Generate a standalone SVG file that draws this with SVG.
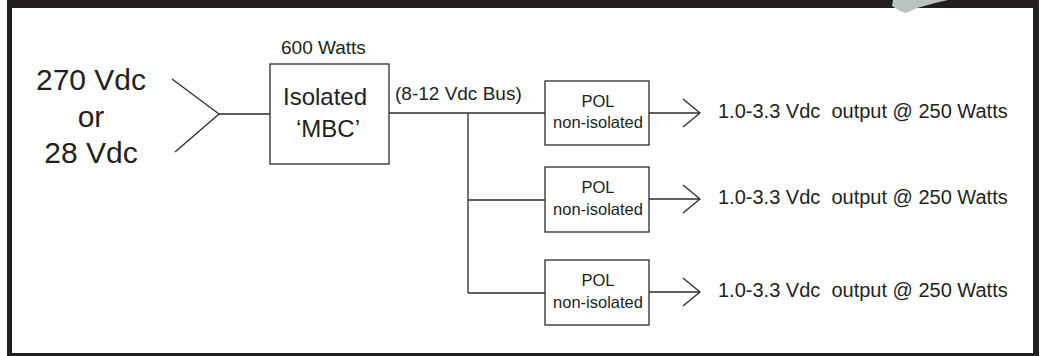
<svg xmlns="http://www.w3.org/2000/svg" width="1042" height="356" viewBox="0 0 1042 356">
<style>
.ln{stroke:#2b2b2b;stroke-width:1.3;fill:none}
.box{stroke:#2b2b2b;stroke-width:1.3;fill:#fff}
text{font-family:"Liberation Sans",Arial,sans-serif;fill:#231f20}
.big{font-size:30px;text-anchor:middle}
.mbc{font-size:24px;text-anchor:middle}
.lbl{font-size:19px}
.pol{font-size:16.5px;text-anchor:middle}
.out{font-size:20px;white-space:pre}
</style>
<rect x="0" y="0" width="1042" height="356" fill="#fff"/>
<g id="frame">
<path d="M7,0 H1039 V356 H7 Z M12,8 V353 H1033 V8 Z" fill="#231f20" fill-rule="evenodd"/>
<polygon points="893,0 948,0 935,3 917,8 906,13 900,11 892,6" fill="#b8c2bf"/>
</g>
<g id="connectors">
<polyline class="ln" points="172,79 219,114 175,152"/>
<line class="ln" x1="219" y1="114" x2="270" y2="114"/>
<line class="ln" x1="389" y1="113" x2="545" y2="113"/>
<line class="ln" x1="468" y1="113" x2="468" y2="293"/>
<line class="ln" x1="468" y1="200" x2="545" y2="200"/>
<line class="ln" x1="468" y1="293" x2="545" y2="293"/>
<line class="ln" x1="649" y1="113" x2="700" y2="113"/>
<polyline class="ln" points="683,99 700,113 683,127"/>
<line class="ln" x1="649" y1="199" x2="700" y2="199"/>
<polyline class="ln" points="683,185 700,199 683,213"/>
<line class="ln" x1="649" y1="292" x2="700" y2="292"/>
<polyline class="ln" points="683,278 700,292 683,306"/>
</g>
<g id="input">
<text class="big" x="91" y="90">270 Vdc</text>
<text class="big" x="91" y="127">or</text>
<text class="big" x="91" y="163">28 Vdc</text>
</g>
<g id="mbc">
<text class="lbl" x="281" y="54">600 Watts</text>
<rect class="box" x="270" y="64" width="119" height="100"/>
<text class="mbc" x="325" y="105">Isolated</text>
<text class="mbc" x="328" y="137">‘MBC’</text>
</g>
<g id="bus">
<text class="lbl" x="395" y="100">(8-12 Vdc Bus)</text>
</g>
<g id="pol1">
<rect class="box" x="545" y="81" width="104" height="64"/>
<text class="pol" x="598" y="107">POL</text>
<text class="pol" x="598" y="128">non-isolated</text>
</g>
<g id="pol2">
<rect class="box" x="545" y="167" width="104" height="65"/>
<text class="pol" x="598" y="193">POL</text>
<text class="pol" x="598" y="215">non-isolated</text>
</g>
<g id="pol3">
<rect class="box" x="545" y="260" width="104" height="65"/>
<text class="pol" x="598" y="286">POL</text>
<text class="pol" x="598" y="308">non-isolated</text>
</g>
<g id="outputs">
<text class="out" x="718" y="118">1.0-3.3 Vdc  output @ 250 Watts</text>
<text class="out" x="718" y="204">1.0-3.3 Vdc  output @ 250 Watts</text>
<text class="out" x="718" y="297">1.0-3.3 Vdc  output @ 250 Watts</text>
</g>
</svg>
